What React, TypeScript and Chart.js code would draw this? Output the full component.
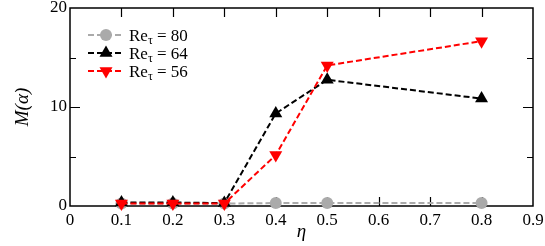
import React, { useEffect, useRef } from 'react';
import { Chart, registerables } from 'chart.js';

Chart.register(...registerables);

// ---- data ----
const etaValues = [0.1, 0.2, 0.3, 0.4, 0.5, 0.8];
const re80Values = [0.25, 0.25, 0.25, 0.3, 0.3, 0.3];
const re64Values = [0.35, 0.35, 0.3, 9.35, 12.75, 10.85];
const re56Values = [0.25, 0.25, 0.25, 5.15, 14.2, 16.65];
const seriesNames = ['80', '64', '56'];
const xLabelTicks = [0, 0.1, 0.2, 0.3, 0.4, 0.5, 0.6, 0.7, 0.8, 0.9];
const yLabelTicks = [0, 10, 20];

const SERIF = "'Liberation Serif', 'Times New Roman', 'DejaVu Serif', serif";
const GREY = '#aaaaaa';
const BLACK = '#000000';
const RED = '#ff0000';

function drawMarker(ctx: CanvasRenderingContext2D, style: string, x: number, y: number, r: number, rotationDeg: number, color: string) {
  ctx.save();
  ctx.fillStyle = color;
  ctx.beginPath();
  if (style === 'circle') {
    ctx.arc(x, y, r, 0, Math.PI * 2);
  } else {
    let rad = (rotationDeg * Math.PI) / 180;
    for (let i = 0; i < 3; i++) {
      const px = x + Math.sin(rad) * r;
      const py = y - Math.cos(rad) * r;
      if (i === 0) ctx.moveTo(px, py);
      else ctx.lineTo(px, py);
      rad += (2 * Math.PI) / 3;
    }
    ctx.closePath();
  }
  ctx.fill();
  ctx.restore();
}

const frameTicksPlugin = {
  id: 'frameTicks',
  beforeDatasetsDraw(chart: any) {
    const { ctx, chartArea: a, scales } = chart;
    const x = scales.x;
    const y = scales.y;
    ctx.save();
    ctx.strokeStyle = '#000';
    ctx.lineWidth = 1.5;
    ctx.strokeRect(a.left, a.top, a.right - a.left, a.bottom - a.top);
    ctx.lineWidth = 1.2;
    ctx.beginPath();
    x.ticks.forEach((t: any) => {
      const px = Math.round(x.getPixelForValue(t.value)) + 0.5;
      if (px <= a.left + 2 || px >= a.right - 2) return;
      ctx.moveTo(px, a.bottom);
      ctx.lineTo(px, a.bottom - 9);
      ctx.moveTo(px, a.top);
      ctx.lineTo(px, a.top + 9);
    });
    y.ticks.forEach((t: any) => {
      const py = Math.round(y.getPixelForValue(t.value)) + 0.5;
      if (py <= a.top + 2 || py >= a.bottom - 2) return;
      const len = Math.round(t.value) % 10 === 0 ? 10 : 6;
      ctx.moveTo(a.left, py);
      ctx.lineTo(a.left + len, py);
      ctx.moveTo(a.right, py);
      ctx.lineTo(a.right - len, py);
    });
    ctx.stroke();
    ctx.restore();
  },
};

const legendPlugin = {
  id: 'customLegend',
  afterDatasetsDraw(chart: any) {
    const { ctx } = chart;
    const rows = [
      { name: seriesNames[0], color: GREY, style: 'circle', r: 6, rot: 0 },
      { name: seriesNames[1], color: BLACK, style: 'triangle', r: 7.5, rot: 0 },
      { name: seriesNames[2], color: RED, style: 'triangle', r: 7.5, rot: 180 },
    ];
    const x0 = 88;
    const x1 = 124;
    const textX = 129;
    const ys = [35, 53, 71];
    rows.forEach((row, i) => {
      const cy = ys[i];
      ctx.save();
      ctx.strokeStyle = row.color;
      ctx.lineWidth = 2;
      ctx.setLineDash([6, 3]);
      ctx.beginPath();
      ctx.moveTo(x0, cy);
      ctx.lineTo(x1, cy);
      ctx.stroke();
      ctx.restore();
      drawMarker(ctx, row.style, (x0 + x1) / 2, cy, row.r, row.rot, row.color);
      ctx.save();
      ctx.fillStyle = '#000';
      ctx.textBaseline = 'alphabetic';
      ctx.textAlign = 'left';
      const base = cy + 6;
      ctx.font = `17px ${SERIF}`;
      ctx.fillText('Re', textX, base);
      let w = ctx.measureText('Re').width;
      ctx.font = `12px ${SERIF}`;
      ctx.fillText('τ', textX + w, base + 3);
      w += ctx.measureText('τ').width;
      ctx.font = `17px ${SERIF}`;
      ctx.fillText(' = ' + row.name, textX + w, base);
      ctx.restore();
    });
  },
};

export default function App() {
  const canvasRef = useRef<HTMLCanvasElement | null>(null);

  useEffect(() => {
    document.body.style.margin = '0';
    const canvas = canvasRef.current;
    if (!canvas) return;
    const mk = (vals: number[]) => etaValues.map((e, i) => ({ x: e, y: vals[i] }));
    const chart = new Chart(canvas, {
      type: 'line',
      data: {
        datasets: [
          {
            label: 'Re56',
            data: mk(re56Values),
            borderColor: RED,
            backgroundColor: RED,
            borderWidth: 2,
            borderDash: [6, 3],
            pointStyle: 'triangle',
            pointRotation: 180,
            pointRadius: 7.5,
            pointBorderWidth: 0,
            clip: false,
          } as any,
          {
            label: 'Re64',
            data: mk(re64Values),
            borderColor: BLACK,
            backgroundColor: BLACK,
            borderWidth: 2,
            borderDash: [6, 3],
            pointStyle: 'triangle',
            pointRadius: 7.5,
            pointBorderWidth: 0,
            clip: false,
          } as any,
          {
            label: 'Re80',
            data: mk(re80Values),
            borderColor: GREY,
            backgroundColor: GREY,
            borderWidth: 2,
            borderDash: [6, 3],
            pointStyle: 'circle',
            pointRadius: 6,
            pointBorderWidth: 0,
            clip: false,
          } as any,
        ],
      },
      options: {
        animation: false,
        responsive: false,
        layout: { padding: { left: 0, right: 12, top: 8, bottom: 0 } },
        plugins: {
          legend: { display: false },
          tooltip: { enabled: false },
        },
        scales: {
          x: {
            type: 'linear',
            min: 0,
            max: 0.9,
            grid: { display: false, drawTicks: false },
            border: { display: false },
            afterFit: (s: any) => {
              s.height = 40;
              s.paddingLeft = 0;
              s.paddingRight = 0;
            },
            afterBuildTicks: (s: any) => {
              s.ticks = xLabelTicks.map((v) => ({ value: v }));
            },
            ticks: {
              autoSkip: false,
              maxRotation: 0,
              padding: 4,
              color: '#000',
              font: { family: SERIF, size: 17 },
              callback: (v: any) => (Number(v) === 0 ? '0' : Number(v).toFixed(1)),
            },
            title: {
              display: true,
              text: 'η',
              color: '#000',
              font: { family: SERIF, size: 19, style: 'italic' },
              padding: { top: 0, bottom: 3 },
            },
          },
          y: {
            type: 'linear',
            min: 0,
            max: 20,
            grid: { display: false, drawTicks: false },
            border: { display: false },
            afterFit: (s: any) => {
              s.width = 70;
              s.paddingTop = 0;
              s.paddingBottom = 0;
            },
            ticks: {
              stepSize: 5,
              padding: 3,
              color: '#000',
              font: { family: SERIF, size: 17 },
              callback: (v: any) => (yLabelTicks.includes(Number(v)) ? String(v) : ''),
            },
            title: {
              display: true,
              text: 'M(α)',
              color: '#000',
              font: { family: SERIF, size: 19, style: 'italic' },
              padding: { top: 12, bottom: 0 },
            },
          },
        },
      },
      plugins: [frameTicksPlugin, legendPlugin],
    } as any);
    let alive = true;
    if ((document as any).fonts && (document as any).fonts.load) {
      Promise.all([
        (document as any).fonts.load("17px 'Liberation Serif'"),
        (document as any).fonts.load("italic 19px 'Liberation Serif'"),
      ])
        .then(() => {
          if (alive) chart.update();
        })
        .catch(() => {});
    }
    return () => {
      alive = false;
      chart.destroy();
    };
  }, []);

  return (
    <div style={{ width: 545, height: 246 }}>
      <canvas ref={canvasRef} width={545} height={246} style={{ display: 'block' }} />
    </div>
  );
}
